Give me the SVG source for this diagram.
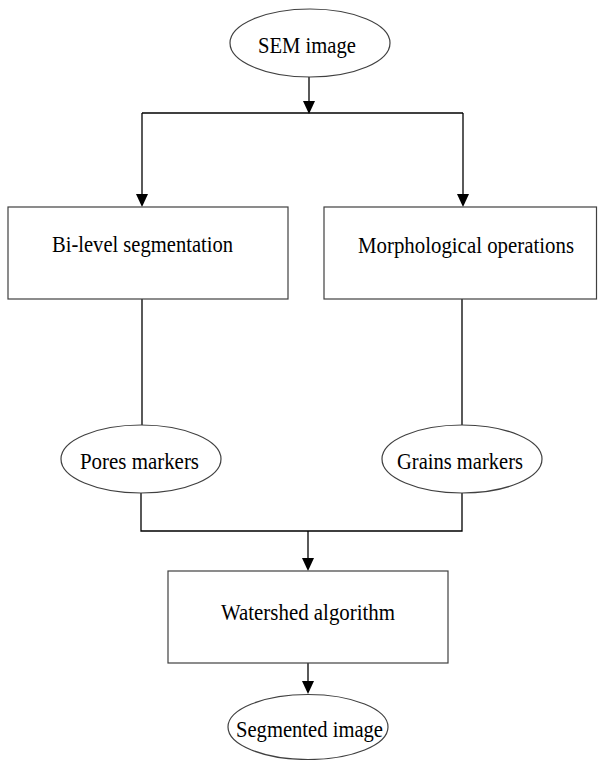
<svg xmlns="http://www.w3.org/2000/svg" width="598" height="760" viewBox="0 0 598 760">
<defs>
<style>
.node{fill:#fff;stroke:#404040;stroke-width:1.2}
.t{font-family:"Liberation Serif","Times New Roman",serif;font-size:24px;fill:#000}
.c{fill:none;stroke:#000;stroke-width:1.3}
.ah{fill:#000}
</style>
</defs>
<rect width="598" height="760" fill="#fff"/>
<g id="connectors">
<path class="c" d="M309,77 V104"/>
<path class="ah" d="M303,101 L315,101 L309,114 Z"/>
<path class="c" d="M142,113 H463"/>
<path class="c" d="M142,113 V195"/>
<path class="ah" d="M136,194 L148,194 L142,207 Z"/>
<path class="c" d="M463,113 V195"/>
<path class="ah" d="M457,194 L469,194 L463,207 Z"/>
<path class="c" d="M142,299 V425"/>
<path class="c" d="M462,299 V425"/>
<path class="c" d="M141,493 V531 H462 V493"/>
<path class="c" d="M308,531 V560"/>
<path class="ah" d="M302,558 L314,558 L308,571 Z"/>
<path class="c" d="M308,663 V684"/>
<path class="ah" d="M302,681 L314,681 L308,694 Z"/>
</g>
<g id="sem-image">
<ellipse class="node" cx="310" cy="43" rx="80" ry="34"/>
<text class="t" x="258" y="53" textLength="98" lengthAdjust="spacingAndGlyphs">SEM image</text>
</g>
<g id="bi-level-segmentation">
<rect class="node" x="8" y="207" width="280" height="92"/>
<text class="t" x="52" y="252" textLength="181" lengthAdjust="spacingAndGlyphs">Bi-level segmentation</text>
</g>
<g id="morphological-operations">
<rect class="node" x="324" y="207" width="272.5" height="92"/>
<text class="t" x="358" y="253" style="font-size:22.5px" textLength="216" lengthAdjust="spacingAndGlyphs">Morphological operations</text>
</g>
<g id="pores-markers">
<ellipse class="node" cx="141" cy="459" rx="80" ry="34"/>
<text class="t" x="80" y="469" textLength="119" lengthAdjust="spacingAndGlyphs">Pores markers</text>
</g>
<g id="grains-markers">
<ellipse class="node" cx="462" cy="459" rx="80" ry="34"/>
<text class="t" x="397" y="469" textLength="126" lengthAdjust="spacingAndGlyphs">Grains markers</text>
</g>
<g id="watershed-algorithm">
<rect class="node" x="168" y="571" width="280" height="92"/>
<text class="t" x="221" y="620" textLength="174" lengthAdjust="spacingAndGlyphs">Watershed algorithm</text>
</g>
<g id="segmented-image">
<ellipse class="node" cx="308" cy="727" rx="80" ry="32.5"/>
<text class="t" x="236" y="737" textLength="147" lengthAdjust="spacingAndGlyphs">Segmented image</text>
</g>
</svg>
